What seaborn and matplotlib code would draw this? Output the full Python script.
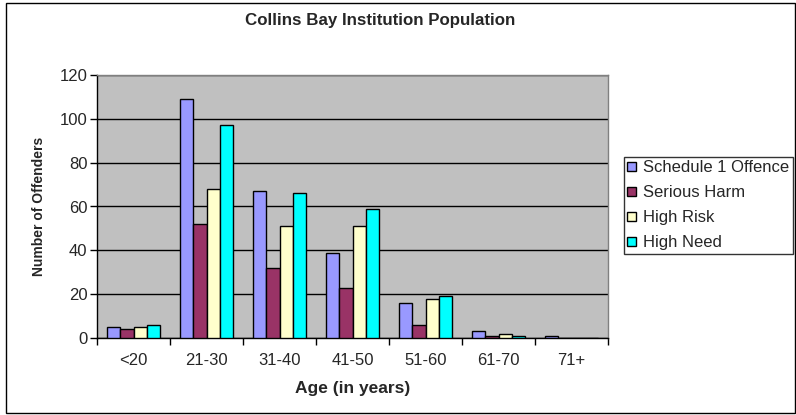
import pandas as pd
import matplotlib
matplotlib.use("Agg")
import matplotlib.pyplot as plt
from matplotlib.patches import Rectangle
from matplotlib.ticker import FixedLocator
import seaborn as sns

ages = ["<20", "21-30", "31-40", "41-50", "51-60", "61-70", "71+"]
schedule_1 = [5, 109, 67, 39, 16, 3, 1]
serious_harm = [4, 52, 32, 23, 6, 1, 0]
high_risk = [5, 68, 51, 51, 18, 2, 0]
high_need = [6, 97, 66, 59, 19, 1, 0]
series_names = ["Schedule 1 Offence", "Serious Harm", "High Risk", "High Need"]
colors = ["#9999FF", "#993366", "#FFFFCC", "#00FFFF"]

rows = []
for name, vals in zip(series_names, [schedule_1, serious_harm, high_risk, high_need]):
    for a, v in zip(ages, vals):
        rows.append({"Age": a, "Count": v, "Series": name})
df = pd.DataFrame(rows)

sns.set_style("white")
plt.rcParams["font.family"] = ["Liberation Sans", "DejaVu Sans"]

fig = plt.figure(figsize=(7.96, 4.15), dpi=100)
ax = fig.add_axes([97 / 796, 1 - 338 / 415, (608 - 97) / 796, (338 - 75) / 415])
ax.set_facecolor("#C0C0C0")

sns.barplot(data=df, x="Age", y="Count", hue="Series", order=ages,
            hue_order=series_names, palette=colors, width=0.72, gap=0,
            edgecolor="black", linewidth=1, saturation=1, ax=ax, legend=False,
            zorder=3)

ax.set_ylim(0, 120)
ax.set_xlim(-0.5, 6.5)
ax.set_yticks(range(0, 121, 20))
ax.yaxis.grid(True, color="black", linewidth=1)
ax.set_axisbelow(True)
ax.xaxis.set_minor_locator(FixedLocator([i - 0.5 for i in range(8)]))
ax.tick_params(axis="x", which="major", length=0, labelsize=12, pad=11)
ax.tick_params(axis="x", which="minor", length=5, width=1, color="black", direction="out", bottom=True)
ax.tick_params(axis="y", length=5, width=1, color="black", direction="out", labelsize=12, pad=2, left=True)
for s in ["left", "bottom"]:
    ax.spines[s].set_color("black")
    ax.spines[s].set_linewidth(1)
for s in ["top", "right"]:
    ax.spines[s].set_color("#808080")
    ax.spines[s].set_linewidth(1)

ax.set_xlabel("Age (in years)", fontsize=12.5, fontweight="bold", labelpad=9)
ax.set_ylabel("Number of Offenders", fontsize=10, fontweight="bold", labelpad=10)
fig.text(380 / 796, 1 - 21 / 415, "Collins Bay Institution Population", fontsize=12.2,
         fontweight="bold", ha="center", va="center")

handles = [Rectangle((0, 0), 1, 1, facecolor=c, edgecolor="black", linewidth=1) for c in colors]
fig.legend(handles, series_names, loc="upper left", bbox_to_anchor=(624 / 796, 1 - 157 / 415),
           frameon=True, fancybox=False, edgecolor="black", fontsize=12,
           handlelength=0.5, handleheight=0.5, handletextpad=0.45, labelspacing=0.6,
           borderpad=0.2, borderaxespad=0)

fig.patches.append(Rectangle((6 / 796, 2 / 415), 789 / 796, 410 / 415, transform=fig.transFigure,
                             fill=False, edgecolor="black", linewidth=1))

fig.savefig("out.png", dpi=100, facecolor="white")
